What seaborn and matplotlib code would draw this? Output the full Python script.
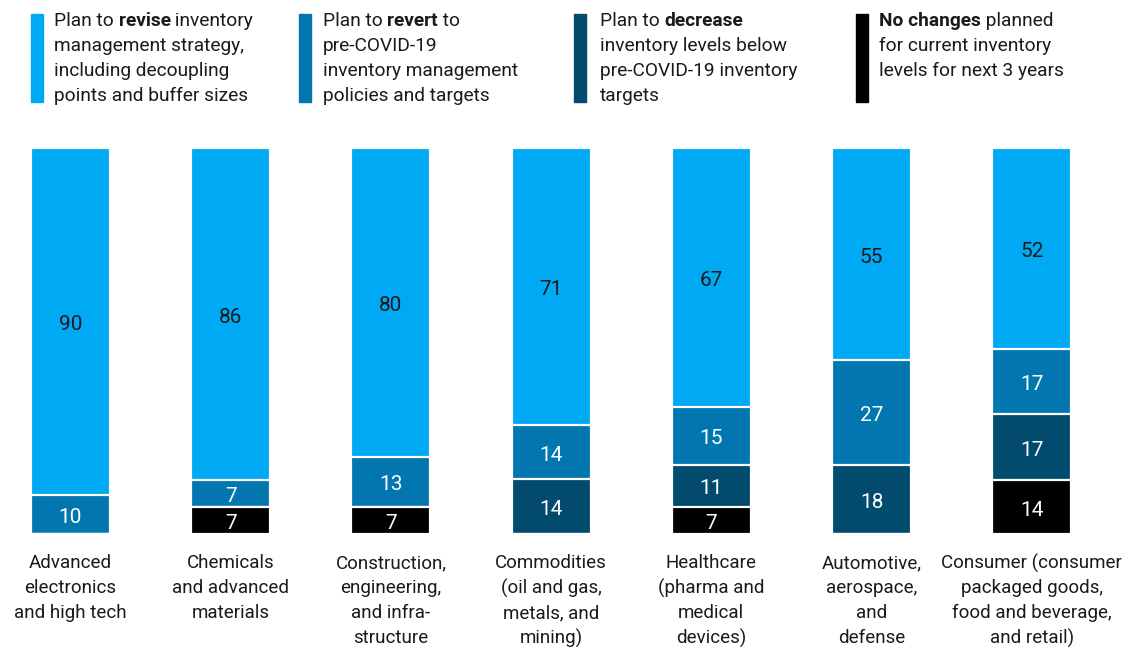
import numpy as np
import pandas as pd
import matplotlib
matplotlib.use("Agg")
import matplotlib.pyplot as plt
import seaborn as sns

categories = [
    "Advanced\nelectronics\nand high tech",
    "Chemicals\nand advanced\nmaterials",
    "Construction,\nengineering,\nand infra-\nstructure",
    "Commodities\n(oil and gas,\nmetals, and\nmining)",
    "Healthcare\n(pharma and\nmedical\ndevices)",
    "Automotive,\naerospace,\nand\ndefense",
    "Consumer (consumer\npackaged goods,\nfood and beverage,\nand retail)",
]
revise = [90, 86, 80, 71, 67, 55, 52]
revert = [10, 7, 13, 14, 15, 27, 17]
decrease = [0, 0, 0, 14, 11, 18, 17]
no_change = [0, 7, 7, 0, 7, 0, 14]

legend_parts = [
    [("Plan to ", False), ("revise", True), (" inventory", False)],
    [("Plan to ", False), ("revert", True), (" to", False)],
    [("Plan to ", False), ("decrease", True)],
    [("No changes", True), (" planned", False)],
]
legend_rest = [
    ["management strategy,", "including decoupling", "points and buffer sizes"],
    ["pre-COVID-19", "inventory management", "policies and targets"],
    ["inventory levels below", "pre-COVID-19 inventory", "targets"],
    ["for current inventory", "levels for next 3 years"],
]

c_revise = "#00A9F4"
c_revert = "#0277AF"
c_decrease = "#034B6E"
c_none = "#000000"

sns.set_theme(style="white")
plt.rcParams["font.family"] = ["Roboto", "DejaVu Sans"]
FS_LEG = 13.8
FS_CAT = 13.5
FS_VAL = 15
TXT = "#1a1a1a"

W, H = 1141, 647
fig = plt.figure(figsize=(W / 100, H / 100), dpi=100)
ax = fig.add_axes([0, (H - 534) / H, 1, 386 / H])

df = pd.DataFrame({
    "cat": categories,
    "none": no_change,
    "decrease": decrease,
    "revert": revert,
    "revise": revise,
})
tot = df[["none", "decrease", "revert", "revise"]].sum(axis=1)
for c in ["none", "decrease", "revert", "revise"]:
    df[c + "_n"] = df[c] / tot * 100
df["c1"] = df["none_n"]
df["c2"] = df["c1"] + df["decrease_n"]
df["c3"] = df["c2"] + df["revert_n"]
df["c4"] = df["c3"] + df["revise_n"]

order = categories
for col, color in [("c4", c_revise), ("c3", c_revert), ("c2", c_decrease), ("c1", c_none)]:
    sns.barplot(data=df, x="cat", y=col, order=order, color=color, width=0.493,
                edgecolor="white", linewidth=1.6, saturation=1, ax=ax)

# value labels
for i in range(len(categories)):
    segs = [("none", "c1", "white"), ("decrease", "c2", "white"),
            ("revert", "c3", "white"), ("revise", "c4", TXT)]
    base = 0
    for key, cum, tc in segs:
        v = df.loc[i, key]
        top = df.loc[i, cum]
        if v > 0:
            ax.annotate(f"{v}", xy=(i, (base + top) / 2), xytext=(0, -2.2),
                        textcoords="offset points", ha="center", va="center",
                        color=tc, fontsize=FS_VAL)
        base = top

ax.set_xlim(-70.5 / 160.2, (W - 70.5) / 160.2)
ax.set_ylim(0, 100)
ax.axis("off")

# category labels (one line at a time, 25 px pitch)
for i, lab in enumerate(categories):
    for j, line in enumerate(lab.split("\n")):
        ypx = 563 + 25 * j
        ax.text(i, (534 - ypx) / 386 * 100, line, ha="center", va="center",
                fontsize=FS_CAT, color=TXT)

# legend
renderer = fig.canvas.get_renderer()
rect_x = [31, 299, 574, 856]
text_x = [54, 323, 600, 879]
colors = [c_revise, c_revert, c_decrease, c_none]
for k in range(4):
    fig.patches.append(matplotlib.patches.Rectangle(
        (rect_x[k] / W, 1 - 102 / H), 12 / W, 88 / H, transform=fig.transFigure,
        color=colors[k], zorder=3))
    x = text_x[k]
    y = 1 - 20.7 / H
    for txt, bold in legend_parts[k]:
        t = fig.text(x / W, y, txt, fontsize=FS_LEG, va="center", ha="left",
                     fontweight="bold" if bold else "normal", color=TXT)
        bb = t.get_window_extent(renderer)
        x += bb.width
    for j, line in enumerate(legend_rest[k]):
        fig.text(text_x[k] / W, 1 - (20.7 + 25 * (j + 1)) / H, line, fontsize=FS_LEG,
                 va="center", ha="left", color=TXT)

fig.savefig("out.png", dpi=100, facecolor="white")
